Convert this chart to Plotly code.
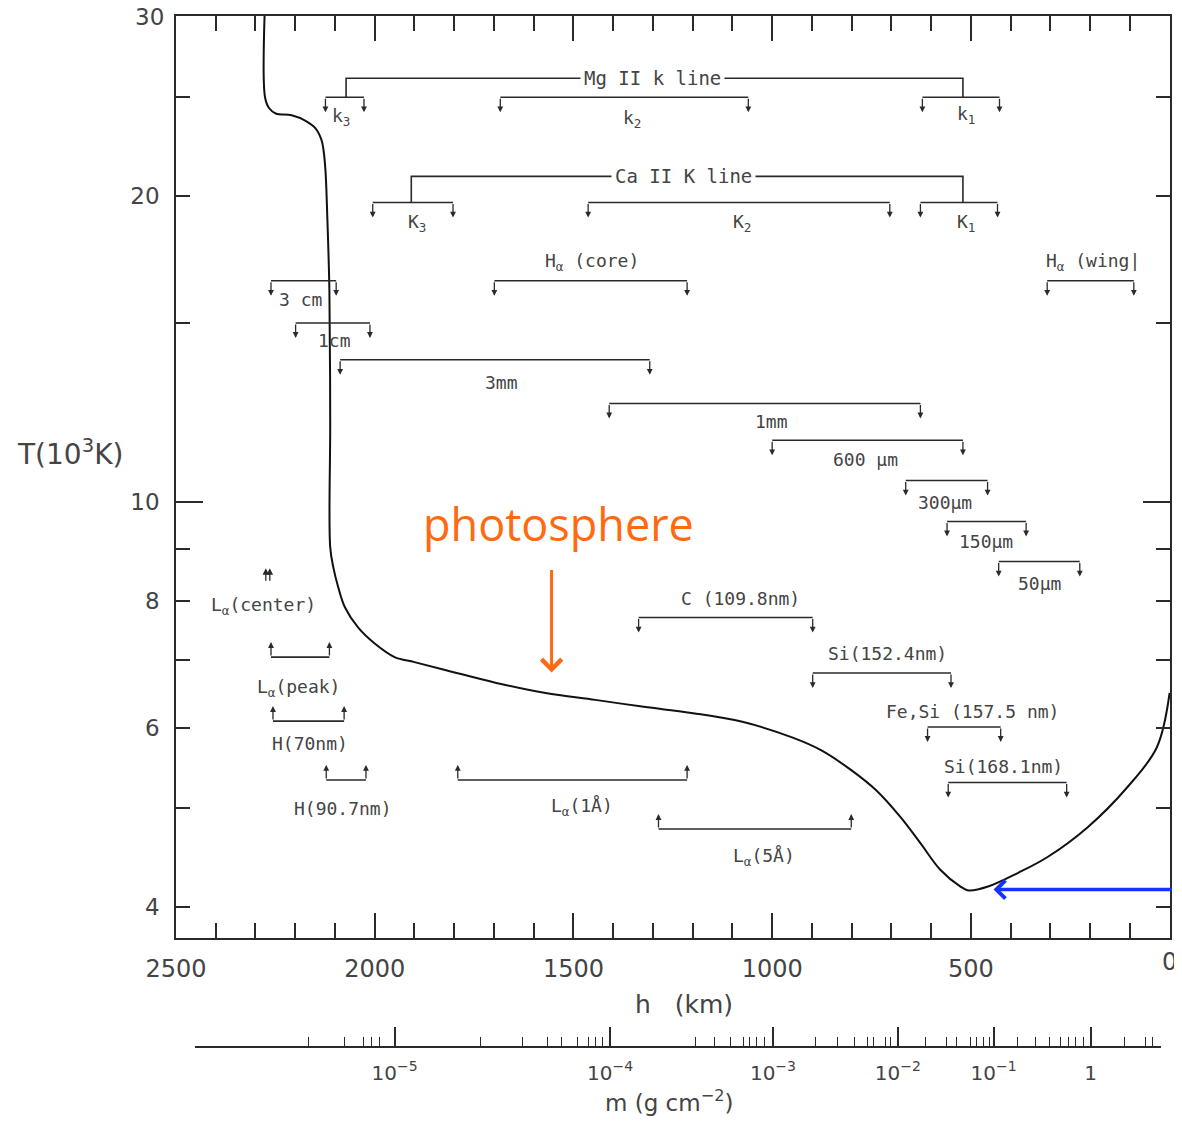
import math
import plotly.graph_objects as go

# temperature profile T(h)
h_km = [2276, 2276, 2266, 2249, 2209, 2174, 2149, 2134, 2129, 2124, 2119, 2114, 2112, 2112,
        2104, 2092, 2075, 2042, 2000, 1950, 1900, 1818, 1694, 1570, 1445, 1323, 1199, 1075,
        950, 876, 801, 739, 677, 627, 577, 527, 505, 455, 381, 306, 206, 107, 32, 0]
T_kK = [31.0, 25.0, 24.4, 24.1, 24.0, 23.7, 23.3, 22.7, 22.2, 21.2, 18.9, 16.1, 12.0, 9.03,
        8.62, 8.25, 7.88, 7.53, 7.26, 7.04, 6.96, 6.83, 6.64, 6.49, 6.39, 6.29, 6.20, 6.08,
        5.87, 5.70, 5.45, 5.21, 4.90, 4.62, 4.35, 4.19, 4.15, 4.19, 4.32, 4.48, 4.79, 5.24, 5.74, 6.49]

# formation-height brackets
br_names = ["k<sub>3</sub>", "k<sub>2</sub>", "k<sub>1</sub>",
            "K<sub>3</sub>", "K<sub>2</sub>", "K<sub>1</sub>",
            "H<sub>α</sub> (core)", "H<sub>α</sub> (wing|", "3 cm", "1cm", "3mm", "1mm",
            "600 μm", "300μm", "150μm", "50μm",
            "C (109.8nm)", "Si(152.4nm)", "Fe,Si (157.5 nm)", "Si(168.1nm)",
            "L<sub>α</sub>(1Å)", "L<sub>α</sub>(5Å)", "L<sub>α</sub>(peak)", "H(70nm)", "H(90.7nm)"]
br_h1 = [2124, 1684, 622, 2005, 1463, 627, 1699, 308, 2261, 2199, 2087, 1410,
         1000, 664, 560, 430, 1336, 898, 609, 557, 1791, 1286, 2261, 2256, 2122]
br_h2 = [2027, 1060, 428, 1803, 704, 433, 1214, 90, 2097, 2012, 1308, 627,
         520, 458, 361, 226, 898, 550, 425, 259, 1214, 801, 2114, 2077, 2022]
br_T = [25.0, 25.0, 25.0, 19.7, 19.7, 19.7, 16.5, 16.5, 16.5, 15.0, 13.8, 12.5,
        11.5, 10.5, 9.57, 8.74, 7.70, 6.79, 6.01, 5.30, 5.33, 4.77, 7.04, 6.09, 5.33]
br_way = ["down"] * 20 + ["up"] * 5
lbl_h = [2085, 1353, 512, 1893, 1077, 512, 1453, 194, 2187, 2102, 1682, 1002,
         766, 565, 463, 328, 1080, 709, 497, 418, 1478, 1020, 2192, 2162, 2080]
lbl_T = [23.9, 23.8, 24.0, 18.8, 18.8, 18.8, 17.2, 17.2, 15.8, 14.4, 13.1, 12.0,
         11.0, 10.0, 9.15, 8.32, 8.04, 7.09, 6.23, 5.49, 5.01, 4.48, 6.56, 5.79, 5.00]

# Mg II / Ca II connectors: (h left, h right), (T top, T bracket)
line_names = ["Mg II k line", "Ca II K line"]
line_h = [(2072, 520), (1908, 520)]
line_T = [(26.1, 25.0), (20.9, 19.7)]
line_lbl_h = [1301, 1224]

# L_alpha centre arrows
lac_h = [2274, 2264]
lac_T = 8.34

# axis ticks
h_ticks = [2500, 2000, 1500, 1000, 500, 0]
T_ticks = [4, 6, 8, 10, 20, 30]
T_minor = [5, 7, 9, 15, 25]
m_labels = ["10<sup>−5</sup>", "10<sup>−4</sup>", "10<sup>−3</sup>", "10<sup>−2</sup>", "10<sup>−1</sup>", "1"]
m_major_h = [1950, 1408, 998, 684, 443, 199]
m_minor_h = [2453, 2167, 2077, 2027, 2007, 1988,
             1734, 1627, 1565, 1530, 1490, 1463, 1445, 1428,
             1192, 1144, 1104, 1072, 1057, 1040, 1020,
             891, 836, 793, 761, 744, 716, 701,
             614, 562, 535, 502, 485, 468, 453,
             383, 338, 301, 274, 254, 236, 216,
             114, 60, 42, 22]

INK = "#2a2a2a"
TXT = "#444444"
FONT = "DejaVu Sans"
MONO = "DejaVu Sans Mono"
ly = math.log10

fig = go.Figure()

fig.add_trace(go.Scatter(x=h_km, y=T_kK, mode="lines", line_shape="spline",
                         line=dict(color="#111111", width=2), hoverinfo="skip"))

for name, h1, h2, t, way, lh, lt in zip(br_names, br_h1, br_h2, br_T, br_way, lbl_h, lbl_T):
    fig.add_trace(go.Scatter(x=[h1, h2], y=[t, t], mode="lines",
                             line=dict(color=INK, width=1.6), hoverinfo="skip"))
    sgn = -1 if way == "down" else 1
    for h in (h1, h2):
        fig.add_annotation(x=h, y=ly(t), text="", showarrow=True, ax=0, ay=sgn * 15,
                           yshift=sgn * 15, arrowhead=2, arrowsize=0.9, arrowwidth=1.3,
                           arrowcolor=INK)
    fig.add_annotation(x=lh, y=ly(lt), text=name, showarrow=False,
                       font=dict(family=MONO, size=18, color=TXT))

for name, (ha, hb), (tt, tb), lh in zip(line_names, line_h, line_T, line_lbl_h):
    fig.add_trace(go.Scatter(x=[ha, ha, hb, hb], y=[tb, tt, tt, tb], mode="lines",
                             line=dict(color=INK, width=1.6), hoverinfo="skip"))
    fig.add_annotation(x=lh, y=ly(tt), text=name, showarrow=False, bgcolor="white",
                       borderpad=3, font=dict(family=MONO, size=19, color=TXT))

for h in lac_h:
    fig.add_annotation(x=h, y=ly(lac_T), text="", showarrow=True, ax=0, ay=14, yshift=14,
                       arrowhead=2, arrowsize=1.0, arrowwidth=1.3, arrowcolor=INK)
fig.add_annotation(x=2279, y=ly(7.91), text="L<sub>α</sub>(center)", showarrow=False,
                   font=dict(family=MONO, size=18, color=TXT))

# highlights
fig.add_annotation(x=1537, y=ly(9.53), text="photosphere", showarrow=False,
                   font=dict(family="Open Sans", size=45, color="#ff6a10"))
fig.add_annotation(x=1555, y=ly(6.80), text="", showarrow=True, ax=0, ay=-104,
                   arrowhead=4, arrowsize=1.3, arrowwidth=3, arrowcolor="#ff6a10")
fig.add_annotation(x=443, y=ly(4.16), text="", showarrow=True, ax=180, ay=0,
                   arrowhead=4, arrowsize=1.0, arrowwidth=3.5, arrowcolor="#1532ff")

# edge tick labels that plotly hides because they touch the page border
fig.add_annotation(x=0, xref="paper", xshift=-10, xanchor="right", y=ly(T_ticks[-1]),
                   yanchor="middle", text=str(T_ticks[-1]), showarrow=False,
                   font=dict(family=FONT, size=23, color=TXT))
fig.add_annotation(x=h_ticks[-1], y=0.1057, yref="paper", yshift=-8, yanchor="top",
                   xanchor="center", text=str(h_ticks[-1]), showarrow=False,
                   font=dict(family=FONT, size=24, color=TXT))

# axis titles (paper fractions from the reference pixel layout)
fig.add_annotation(x=1221, y=(1047 - 1004) / 1031, xref="x", yref="paper", text="h   (km)",
                   xanchor="center", yanchor="middle", showarrow=False,
                   font=dict(family=FONT, size=25, color=TXT))
fig.add_annotation(x=1260, y=(1047 - 1101) / 1031, xref="x", yref="paper",
                   text="m (g cm<sup>−2</sup>)", xanchor="center", yanchor="middle",
                   showarrow=False, font=dict(family=FONT, size=23, color=TXT))
fig.add_annotation(x=(70 - 176) / 996, y=(1047 - 453) / 1031, xref="paper", yref="paper",
                   text="T(10<sup>3</sup>K)", xanchor="center", yanchor="middle",
                   showarrow=False, font=dict(family=FONT, size=28, color=TXT))

# invisible traces keeping the extra axes alive
fig.add_trace(go.Scatter(x=m_major_h, y=[10] * len(m_major_h), xaxis="x2", yaxis="y",
                         mode="markers", marker=dict(opacity=0), hoverinfo="skip"))
fig.add_trace(go.Scatter(x=[1000], y=[10], xaxis="x", yaxis="y2",
                         mode="markers", marker=dict(opacity=0), hoverinfo="skip"))

T_range = [ly(3.727), ly(30.05)]

# the page body adds 8 px around the figure, so the figure is 16 px smaller
fig.update_layout(
    width=1166, height=1111,
    margin=dict(l=168, r=2, t=8, b=72),
    paper_bgcolor="white", plot_bgcolor="rgba(0,0,0,0)",
    showlegend=False,
    xaxis=dict(range=[2500, -1], domain=[0, 1], anchor="y",
               tickvals=h_ticks, ticks="inside", ticklen=25, tickwidth=1.5, tickcolor=INK,
               minor=dict(dtick=100, tick0=0, ticks="inside", ticklen=15, tickwidth=1.5, tickcolor=INK),
               showline=True, linecolor=INK, linewidth=1.5, mirror="ticks",
               showgrid=False, zeroline=False, ticklabelstandoff=8,
               tickfont=dict(family=FONT, size=24, color=TXT)),
    yaxis=dict(type="log", range=T_range, domain=[0.1057, 1],
               tickvals=T_ticks, ticktext=[str(t) for t in T_ticks],
               ticks="inside", ticklen=14, tickwidth=1.5, tickcolor=INK,
               minor=dict(tickvals=T_minor, ticks="inside", ticklen=14, tickwidth=1.5, tickcolor=INK),
               showline=True, linecolor=INK, linewidth=1.5, mirror="ticks",
               showgrid=False, zeroline=False, ticklabelstandoff=10,
               tickfont=dict(family=FONT, size=23, color=TXT)),
    yaxis2=dict(type="log", range=T_range, domain=[0.1057, 1], overlaying="y",
                side="left", tickvals=[10], ticktext=[""], ticks="inside", ticklen=27,
                tickwidth=1.5, tickcolor=INK, mirror="ticks", showgrid=False,
                zeroline=False, showline=False),
    xaxis2=dict(range=[2453, 22], domain=[(2500 - 2453) / 2501, (2500 - 22) / 2501],
                anchor="free", position=0,
                tickvals=m_major_h, ticktext=m_labels, ticks="inside", ticklen=19,
                tickwidth=1.5, tickcolor=INK,
                minor=dict(tickvals=m_minor_h, ticks="inside", ticklen=9, tickwidth=1.3, tickcolor=INK),
                showline=True, linecolor=INK, linewidth=1.5,
                showgrid=False, zeroline=False, ticklabelstandoff=8,
                tickfont=dict(family=FONT, size=20, color=TXT)),
)

fig.write_html("out.html")
